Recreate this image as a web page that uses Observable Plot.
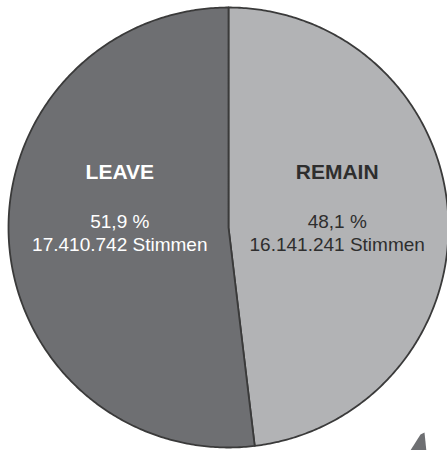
<!DOCTYPE html>
<html>
<head>
<meta charset="utf-8">
<script src="https://cdn.jsdelivr.net/npm/d3@7"></script>
<script src="https://cdn.jsdelivr.net/npm/@observablehq/plot@0.6"></script>
<style>
  html, body { margin: 0; padding: 0; background: #fff; }
  #chart svg { display: block; }
</style>
</head>
<body>
<div id="chart"></div>
<script>
// Data
const categories = ["REMAIN", "LEAVE"];
const shares = [48.1, 51.9];
const shareLabels = ["48,1 %", "51,9 %"];
const voteLabels = ["16.141.241 Stimmen", "17.410.742 Stimmen"];
const sliceColors = ["#b2b3b5", "#6e6f72"];
const textColors = ["#2e2e2e", "#ffffff"];
// small decorative arrow tip at bottom right (data units of the pie frame)
const arrowTipX = [0.8227, 0.8727, 0.8909, 0.9];
const arrowTipY = [-1.02, -0.9409, -0.9318, -1.02];

const rows = categories.map((c, i) => ({cat: c, value: shares[i], share: shareLabels[i], votes: voteLabels[i], color: sliceColors[i], tcolor: textColors[i]}));
const arcs = d3.pie().sort(null).value(d => d.value)(rows);

// Build slice outlines (angles from 12 o'clock, clockwise)
const slicePts = [];
arcs.forEach(a => {
  const n = Math.max(2, Math.ceil((a.endAngle - a.startAngle) / 0.01));
  slicePts.push({cat: a.data.cat, x: 0, y: 0});
  for (let k = 0; k <= n; k++) {
    const t = a.startAngle + (a.endAngle - a.startAngle) * k / n;
    slicePts.push({cat: a.data.cat, x: Math.sin(t), y: Math.cos(t)});
  }
  slicePts.push({cat: a.data.cat, x: 0, y: 0});
});

const labelR = 0.495;
const labels = arcs.map(a => {
  const m = (a.startAngle + a.endAngle) / 2;
  return {...a.data, x: labelR * Math.sin(m), y: 0};
});
const arrow = arrowTipX.map((x, i) => ({x, y: arrowTipY[i]}));

const W = 447, H = 450;
const plot = Plot.plot({
  width: W,
  height: H,
  margin: 0,
  x: {domain: [-1.03636, 0.99545], axis: null},
  y: {domain: [-1.01364, 1.03182], axis: null},
  color: {domain: categories, range: sliceColors},
  style: {fontFamily: "Liberation Sans, Arial, sans-serif", background: "#fff"},
  marks: [
    Plot.line(slicePts, {x: "x", y: "y", z: "cat", fill: "cat", stroke: "#3a3a3a", strokeWidth: 1.8, strokeLinejoin: "round", curve: "linear"}),
    Plot.line(arrow, {x: "x", y: "y", fill: "#6e6f72", stroke: "none"}),
    Plot.text(labels, {x: "x", y: "y", text: "cat", fill: "tcolor", fontWeight: "bold", fontSize: 21, lineAnchor: "bottom", dy: -48}),
    Plot.text(labels, {x: "x", y: "y", text: "share", fill: "tcolor", fontSize: 19, lineAnchor: "bottom", dy: 1}),
    Plot.text(labels, {x: "x", y: "y", text: "votes", fill: "tcolor", fontSize: 19, lineAnchor: "bottom", dy: 24})
  ]
});
document.getElementById("chart").appendChild(plot);
</script>
</body>
</html>
